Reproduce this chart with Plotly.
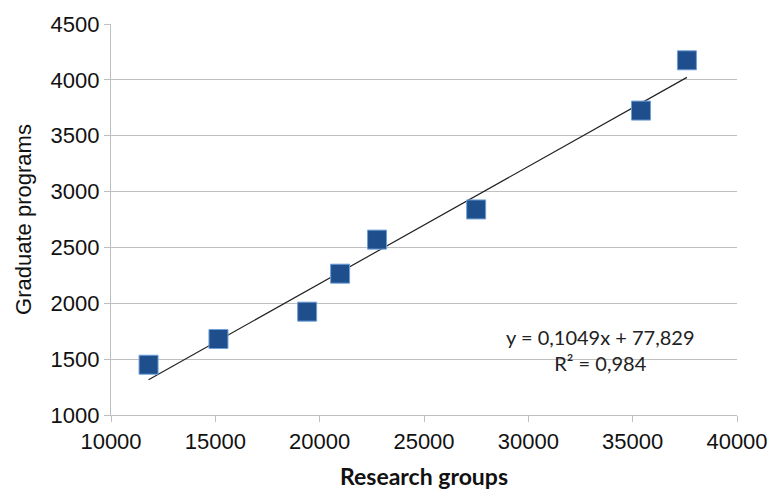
import plotly.graph_objects as go

research_groups = [11800, 15150, 19400, 20980, 22750, 27500, 35400, 37600]
graduate_programs = [1450, 1680, 1925, 2265, 2570, 2840, 3725, 4175]
slope = 0.1049
intercept = 77.829
r_squared = 0.984
x_ticks = [10000, 15000, 20000, 25000, 30000, 35000, 40000]
y_ticks = [1000, 1500, 2000, 2500, 3000, 3500, 4000, 4500]

x_fit = [min(research_groups), max(research_groups)]
y_fit = [slope * v + intercept for v in x_fit]

fig = go.Figure()
fig.add_trace(go.Scatter(
    x=x_fit, y=y_fit, mode="lines",
    line=dict(color="#222222", width=1.2),
    hoverinfo="skip", showlegend=False,
))
fig.add_trace(go.Scatter(
    x=research_groups, y=graduate_programs, mode="markers",
    marker=dict(symbol="square", size=19, color="#1F4E8C",
                line=dict(color="#6FA0D8", width=1)),
    showlegend=False,
))

eq_text = ("y = " + f"{slope:.4f}".replace(".", ",") + "x + "
           + f"{intercept:.3f}".replace(".", ",") + "<br>R² = "
           + f"{r_squared:.3f}".replace(".", ","))
fig.add_annotation(
    x=33450, y=1580, xref="x", yref="y",
    text=eq_text, showarrow=False, align="center",
    font=dict(family="Lato", size=20, color="#222222"),
)

tick_font = dict(family="Liberation Sans", size=22, color="#111111")
axis_common = dict(
    showline=True, linecolor="#BFBFBF", linewidth=1.2,
    ticks="outside", ticklen=6, tickcolor="#BFBFBF",
    tickfont=tick_font, zeroline=False, automargin=False,
)
fig.update_xaxes(
    range=[10000, 40000], tickvals=x_ticks, ticktext=[str(v) for v in x_ticks],
    showgrid=False,
    title=dict(text="<b>Research groups</b>",
               font=dict(family="Lato", size=23, color="#111111"), standoff=16),
    **axis_common,
)
fig.update_yaxes(
    range=[1000, 4500], tickvals=y_ticks, ticktext=[str(v) for v in y_ticks],
    showgrid=True, gridcolor="#BFBFBF", gridwidth=1.2,
    title=dict(text="Graduate programs",
               font=dict(family="Liberation Sans", size=22, color="#111111"),
               standoff=12),
    **axis_common,
)
fig.update_layout(
    width=771, height=490,
    margin=dict(l=111, r=34, t=24, b=75),
    plot_bgcolor="white", paper_bgcolor="white",
)
fig.write_html("out.html",
               config={"displayModeBar": False},
               post_script="document.body.style.margin='0';"
                           "document.body.style.overflow='hidden';")
